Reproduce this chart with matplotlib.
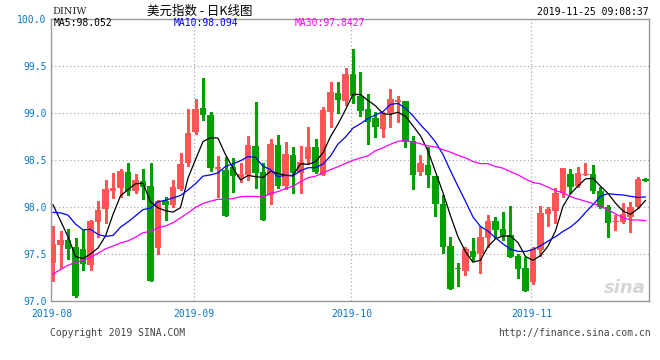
import matplotlib
matplotlib.use("Agg")
import matplotlib.pyplot as plt
import numpy as np
import pandas as pd

# closes of the sessions just before the window, only used to warm up the moving averages
pre_close = [96.2, 96.2, 96.1, 96.8, 96.8, 96.7, 96.8, 97.3, 97.4, 97.5,
             97.1, 96.8, 96.8, 96.9, 97.4, 97.2, 96.9, 97.2, 97.3, 97.7,
             97.7, 97.8, 98.0, 98.0, 97.8, 98.5, 98.4, 98.1, 97.5]

# daily candles, 2019-08 .. 2019-11-25
opens = [97.404, 97.592, 97.645, 97.571, 97.550, 97.379, 97.840, 97.972, 98.167, 98.195,
         98.369, 98.170, 98.273, 98.220, 97.564, 98.064, 98.018, 98.184, 98.461, 98.791,
         99.050, 98.975, 98.404, 98.390, 98.426, 98.312, 98.337, 98.645, 98.369, 98.124,
         98.656, 98.220, 98.550, 98.355, 98.510, 98.635, 98.337, 99.010, 99.213, 99.128,
         99.411, 99.177, 99.039, 98.943, 98.830, 99.000, 99.117, 99.124, 98.699, 98.369,
         98.443, 98.330, 98.028, 97.582, 97.348, 97.319, 97.532, 97.493, 97.670, 97.848,
         97.762, 97.699, 97.475, 97.344, 97.202, 97.539, 97.922, 97.957, 98.142, 98.348,
         98.223, 98.340, 98.348, 98.167, 98.000, 97.840, 97.837, 97.894, 98.000, 98.294]
highs = [97.794, 97.745, 97.759, 97.663, 97.752, 97.858, 98.060, 98.284, 98.355, 98.397,
         98.468, 98.351, 98.397, 98.468, 98.071, 98.099, 98.284, 98.567, 99.039, 99.142,
         99.372, 99.010, 98.539, 98.532, 98.521, 98.461, 98.752, 99.117, 98.468, 98.723,
         98.762, 98.688, 98.638, 98.645, 98.844, 98.716, 99.064, 99.323, 99.323, 99.475,
         99.677, 99.429, 99.199, 99.010, 99.010, 99.252, 99.177, 99.124, 98.752, 98.550,
         98.638, 98.330, 98.124, 97.681, 97.404, 97.574, 97.667, 97.794, 97.911, 97.894,
         97.943, 98.007, 97.500, 97.460, 97.567, 98.011, 98.000, 98.200, 98.415, 98.397,
         98.418, 98.461, 98.443, 98.213, 98.018, 97.910, 98.043, 98.046, 98.319, 98.308]
lows = [97.213, 97.344, 97.443, 97.043, 97.326, 97.326, 97.680, 97.830, 98.089, 98.106,
        98.124, 98.142, 98.082, 97.213, 97.496, 97.858, 98.000, 98.180, 98.430, 98.770,
        98.922, 98.383, 98.099, 97.904, 98.160, 98.266, 98.284, 98.202, 97.858, 98.028,
        98.195, 98.191, 98.149, 98.149, 98.454, 98.355, 98.337, 98.844, 99.000, 99.080,
        99.100, 98.965, 98.663, 98.745, 98.745, 98.851, 98.904, 98.631, 98.191, 98.340,
        98.213, 97.904, 97.504, 97.120, 97.160, 97.270, 97.426, 97.298, 97.574, 97.670,
        97.645, 97.461, 97.238, 97.106, 97.177, 97.475, 97.794, 97.830, 98.106, 98.142,
        98.213, 98.337, 98.142, 97.982, 97.680, 97.752, 97.830, 97.734, 97.982, 98.270]
closes = [97.603, 97.645, 97.553, 97.050, 97.390, 97.848, 97.965, 98.191, 98.199, 98.379,
          98.170, 98.284, 98.213, 97.213, 98.060, 98.018, 98.206, 98.454, 98.787, 99.039,
          98.979, 98.415, 98.426, 97.904, 98.330, 98.348, 98.656, 98.362, 97.858, 98.667,
          98.223, 98.560, 98.355, 98.475, 98.638, 98.369, 99.028, 99.220, 99.135, 99.411,
          99.180, 99.021, 98.904, 98.851, 98.993, 99.142, 99.135, 98.691, 98.340, 98.461,
          98.340, 98.025, 97.574, 97.120, 97.340, 97.546, 97.468, 97.681, 97.848, 97.752,
          97.688, 97.468, 97.337, 97.106, 97.550, 97.936, 97.975, 98.142, 98.415, 98.213,
          98.362, 98.348, 98.170, 98.000, 97.830, 97.846, 97.922, 98.000, 98.294, 98.270]

month_labels = ["2019-08", "2019-09", "2019-10", "2019-11"]
month_start = [0, 19, 40, 64]
y_ticks = [97.0, 97.5, 98.0, 98.5, 99.0, 99.5, 100.0]

ma_periods = [5, 10, 30]
ma_labels = ["MA5:98.052", "MA10:98.094", "MA30:97.8427"]
ma_colors = ["#000000", "#0000ff", "#ff00ff"]

RED = "#ff5555"
GREEN = "#00a000"
BLUE_TXT = "#0a78c8"
MONO = "DejaVu Sans Mono"

W, H = 660, 360


def px(x, y):
    # pixel position -> figure fraction
    return x / W, 1 - y / H


fig = plt.figure(figsize=(W / 100, H / 100), dpi=100)
l, b = px(50.7, 300.7)
r, t = px(649, 18.7)
ax = fig.add_axes([l, b, r - l, t - b])

x = np.arange(len(closes))
o = np.array(opens)
c = np.array(closes)
colors = np.where(c >= o, RED, GREEN)

# wicks and bodies
ax.vlines(x, lows, highs, colors=colors, linewidth=0.8, antialiased=False, zorder=2)
body_low = np.minimum(o, c)
body_h = np.maximum(np.abs(c - o), 0.009)
ax.bar(x, body_h, bottom=body_low, width=0.82, color=colors, linewidth=0,
       antialiased=False, zorder=3)

# moving averages
full = pd.Series(pre_close + closes)
for n, col in zip(ma_periods, ma_colors):
    ma = full.rolling(n).mean().iloc[len(pre_close):].values
    ax.plot(x, ma, color=col, linewidth=0.9, zorder=4)

ax.set_xlim(-0.31, 79.47)
ax.set_ylim(97.0, 100.0)

ax.set_yticks(y_ticks)
ax.set_yticklabels([f"{v:.1f}" for v in y_ticks], fontfamily=MONO, fontsize=7, color=BLUE_TXT)
ax.set_xticks([m - 0.2 for m in month_start])
ax.set_xticklabels(month_labels, fontfamily=MONO, fontsize=7, color=BLUE_TXT)
ax.tick_params(length=0, pad=3)
ax.tick_params(axis="x", pad=6)

for v in y_ticks[1:-1]:
    ax.axhline(v, color="#aaaaaa", linewidth=0.9, linestyle=(0, (1, 2)), zorder=1)
for m in month_start[1:]:
    ax.axvline(m - 0.2, color="#aaaaaa", linewidth=0.9, linestyle=(0, (1, 2)), zorder=1)

for s in ax.spines.values():
    s.set_color("#999999")
    s.set_linewidth(1.0)

# header
fig.text(*px(52, 11), "DINIW", fontfamily="DejaVu Serif", fontsize=7, va="center", color="#222222")
fig.text(*px(200, 11), "美元指数 - 日K线图", family=["Noto Sans CJK SC", "DejaVu Sans"],
         fontsize=9, ha="center", va="center", color="#000000")
fig.text(*px(649, 12), "2019-11-25 09:08:37", fontfamily=MONO, fontsize=7,
         ha="right", va="center", color="#000000")
for lx, txt, col in zip([54, 174, 295], ma_labels, ma_colors):
    fig.text(*px(lx, 23.5), txt, fontfamily=MONO, fontsize=7, va="center", color=col)

# footer
fig.text(*px(50, 333), "Copyright 2019 SINA.COM", fontfamily=MONO, fontsize=7,
         va="center", color="#444444")
fig.text(*px(651, 333), "http://finance.sina.com.cn", fontfamily=MONO, fontsize=7,
         ha="right", va="center", color="#444444")
fig.text(*px(646, 297), "sina", fontsize=13, fontweight="bold", fontstyle="italic",
         ha="right", va="bottom", color="#d5d5d5", zorder=0)

fig.savefig("out.png", dpi=100)
